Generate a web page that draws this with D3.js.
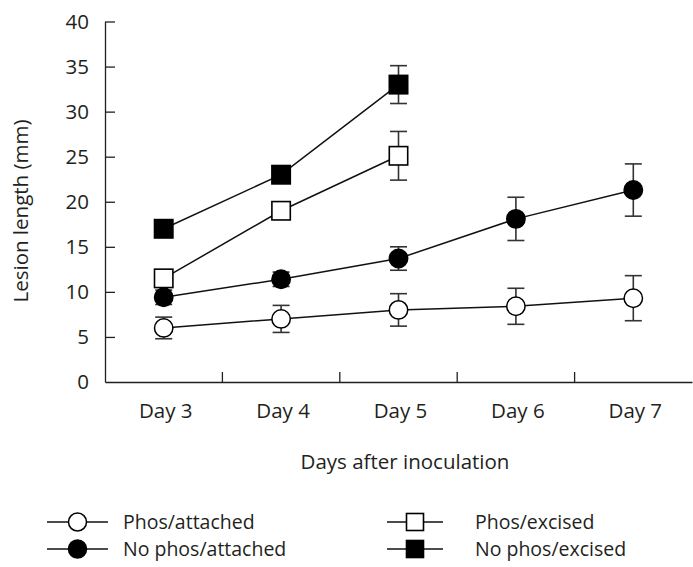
<!DOCTYPE html>
<html>
<head>
<meta charset="utf-8">
<script src="https://cdn.jsdelivr.net/npm/d3@7"></script>
<style>
  body { margin: 0; background: #fff; }
  text { font-family: "Open Sans", sans-serif; fill: #231f20; }
</style>
</head>
<body>
<div id="chart"></div>
<script>
const days = ["Day 3", "Day 4", "Day 5", "Day 6", "Day 7"];
const yTicks = [0, 5, 10, 15, 20, 25, 30, 35, 40];

// series: means and error (half-range) per day, null = not measured
const phosAttached = [6.0, 7.0, 8.0, 8.4, 9.3];
const phosAttachedErr = [1.2, 1.5, 1.8, 2.0, 2.5];
const noPhosAttached = [9.4, 11.4, 13.7, 18.1, 21.3];
const noPhosAttachedErr = [0.8, 0.8, 1.3, 2.4, 2.9];
const phosExcised = [11.5, 19.0, 25.1, null, null];
const phosExcisedErr = [0.8, 0.8, 2.7, null, null];
const noPhosExcised = [17.0, 23.0, 33.0, null, null];
const noPhosExcisedErr = [0.8, 0.8, 2.1, null, null];

const seriesNames = ["Phos/attached", "Phos/excised", "No phos/attached", "No phos/excised"];

const series = [
  {name: "Phos/attached", values: phosAttached, err: phosAttachedErr, shape: "circle", fill: "#fff"},
  {name: "No phos/attached", values: noPhosAttached, err: noPhosAttachedErr, shape: "circle", fill: "#000"},
  {name: "Phos/excised", values: phosExcised, err: phosExcisedErr, shape: "square", fill: "#fff"},
  {name: "No phos/excised", values: noPhosExcised, err: noPhosExcisedErr, shape: "square", fill: "#000"}
];

const width = 693, height = 567;
const margin = {top: 21.5, right: 1, bottom: 185, left: 105};
const fs = "20.5px";

const svg = d3.select("#chart").append("svg")
  .attr("width", width)
  .attr("height", height);

const xScale = d3.scaleBand()
  .domain(days)
  .range([margin.left, width - margin.right])
  .padding(0);

const yScale = d3.scaleLinear()
  .domain([0, 40])
  .range([height - margin.bottom, margin.top]);

const xc = d => xScale(d) + xScale.bandwidth() / 2;

// y axis, ticks pointing inward
const yAxis = d3.axisRight(yScale)
  .tickValues(yTicks)
  .tickSize(10)
  .tickSizeOuter(0)
  .tickFormat("");

const yG = svg.append("g")
  .attr("transform", `translate(${margin.left},0)`)
  .call(yAxis);
yG.select(".domain").attr("stroke", "#231f20").attr("stroke-width", 1.3);
yG.selectAll(".tick line").attr("stroke", "#231f20").attr("stroke-width", 1.3)
  .filter(d => d === 0).remove();

svg.selectAll(".ylabel")
  .data(yTicks)
  .join("text")
  .attr("class", "ylabel")
  .attr("x", margin.left - 16)
  .attr("y", d => yScale(d))
  .attr("dy", "0.36em")
  .attr("text-anchor", "end")
  .style("font-size", fs)
  .text(d => d);

// x axis
const xAxis = d3.axisBottom(xScale).tickSize(0).tickSizeOuter(0);
const xG = svg.append("g")
  .attr("transform", `translate(0,${yScale(0)})`)
  .call(xAxis);
xG.select(".domain").attr("stroke", "#231f20").attr("stroke-width", 1.3);
xG.selectAll(".tick text")
  .attr("dy", 0)
  .attr("y", 36)
  .attr("dx", 2)
  .style("font-size", fs)
  .style("font-family", "Open Sans, sans-serif")
  .attr("fill", "#231f20");

// category boundary ticks
svg.selectAll(".xtick")
  .data(days.slice(1))
  .join("line")
  .attr("class", "xtick")
  .attr("x1", d => xScale(d))
  .attr("x2", d => xScale(d))
  .attr("y1", yScale(0))
  .attr("y2", yScale(0) - 10)
  .attr("stroke", "#231f20")
  .attr("stroke-width", 1.3);

// axis titles
svg.append("text")
  .attr("x", 405)
  .attr("y", 469)
  .attr("text-anchor", "middle")
  .style("font-size", fs)
  .text("Days after inoculation");

svg.append("text")
  .attr("transform", `translate(28,211) rotate(-90)`)
  .attr("text-anchor", "middle")
  .style("font-size", fs)
  .text("Lesion length (mm)");

// lines
const line = d3.line()
  .defined(d => d.v !== null)
  .x(d => xc(d.day))
  .y(d => yScale(d.v));

const pts = s => days.map((day, i) => ({day, v: s.values[i], e: s.err[i], s}))
  .filter(d => d.v !== null);

svg.selectAll(".series-line")
  .data(series)
  .join("path")
  .attr("class", "series-line")
  .attr("fill", "none")
  .attr("stroke", "#111")
  .attr("stroke-width", 1.5)
  .attr("d", s => line(pts(s)));

// error bars
const allPts = series.flatMap(pts);
const capW = 8.5;
const eb = svg.selectAll(".err")
  .data(allPts)
  .join("g")
  .attr("class", "err")
  .attr("stroke", "#333")
  .attr("stroke-width", 1.6);
eb.append("line")
  .attr("x1", d => xc(d.day)).attr("x2", d => xc(d.day))
  .attr("y1", d => yScale(d.v + d.e)).attr("y2", d => yScale(d.v - d.e));
eb.append("line")
  .attr("x1", d => xc(d.day) - capW).attr("x2", d => xc(d.day) + capW)
  .attr("y1", d => yScale(d.v + d.e)).attr("y2", d => yScale(d.v + d.e));
eb.append("line")
  .attr("x1", d => xc(d.day) - capW).attr("x2", d => xc(d.day) + capW)
  .attr("y1", d => yScale(d.v - d.e)).attr("y2", d => yScale(d.v - d.e));

// markers
function drawMarker(g, shape, fill, x, y, r) {
  if (shape === "circle") {
    g.append("circle")
      .attr("cx", x).attr("cy", y).attr("r", r)
      .attr("fill", fill).attr("stroke", "#000").attr("stroke-width", 1.5);
  } else {
    g.append("rect")
      .attr("x", x - r).attr("y", y - r)
      .attr("width", 2 * r).attr("height", 2 * r)
      .attr("fill", fill).attr("stroke", "#000").attr("stroke-width", 1.6);
  }
}

const markers = svg.append("g");
allPts.forEach(d => drawMarker(markers, d.s.shape, d.s.fill, xc(d.day), yScale(d.v), 9.2));

// legend
const legendPos = [
  {lx: 47, ly: 522}, {lx: 387, ly: 522},
  {lx: 47, ly: 549}, {lx: 387, ly: 549}
];
const legend = svg.append("g");
seriesNames.forEach((name, i) => {
  const s = series.find(d => d.name === name);
  const p = legendPos[i];
  const lineLen = s.shape === "circle" ? 61 : 56;
  legend.append("line")
    .attr("x1", p.lx).attr("x2", p.lx + lineLen)
    .attr("y1", p.ly).attr("y2", p.ly)
    .attr("stroke", "#111").attr("stroke-width", 1.5);
  drawMarker(legend, s.shape, s.fill, p.lx + lineLen / 2, p.ly, s.shape === "circle" ? 9 : 8.5);
  legend.append("text")
    .attr("x", s.shape === "circle" ? 123 : 475)
    .attr("y", p.ly)
    .attr("dy", "0.36em")
    .style("font-size", "19.5px")
    .text(name);
});
</script>
</body>
</html>
